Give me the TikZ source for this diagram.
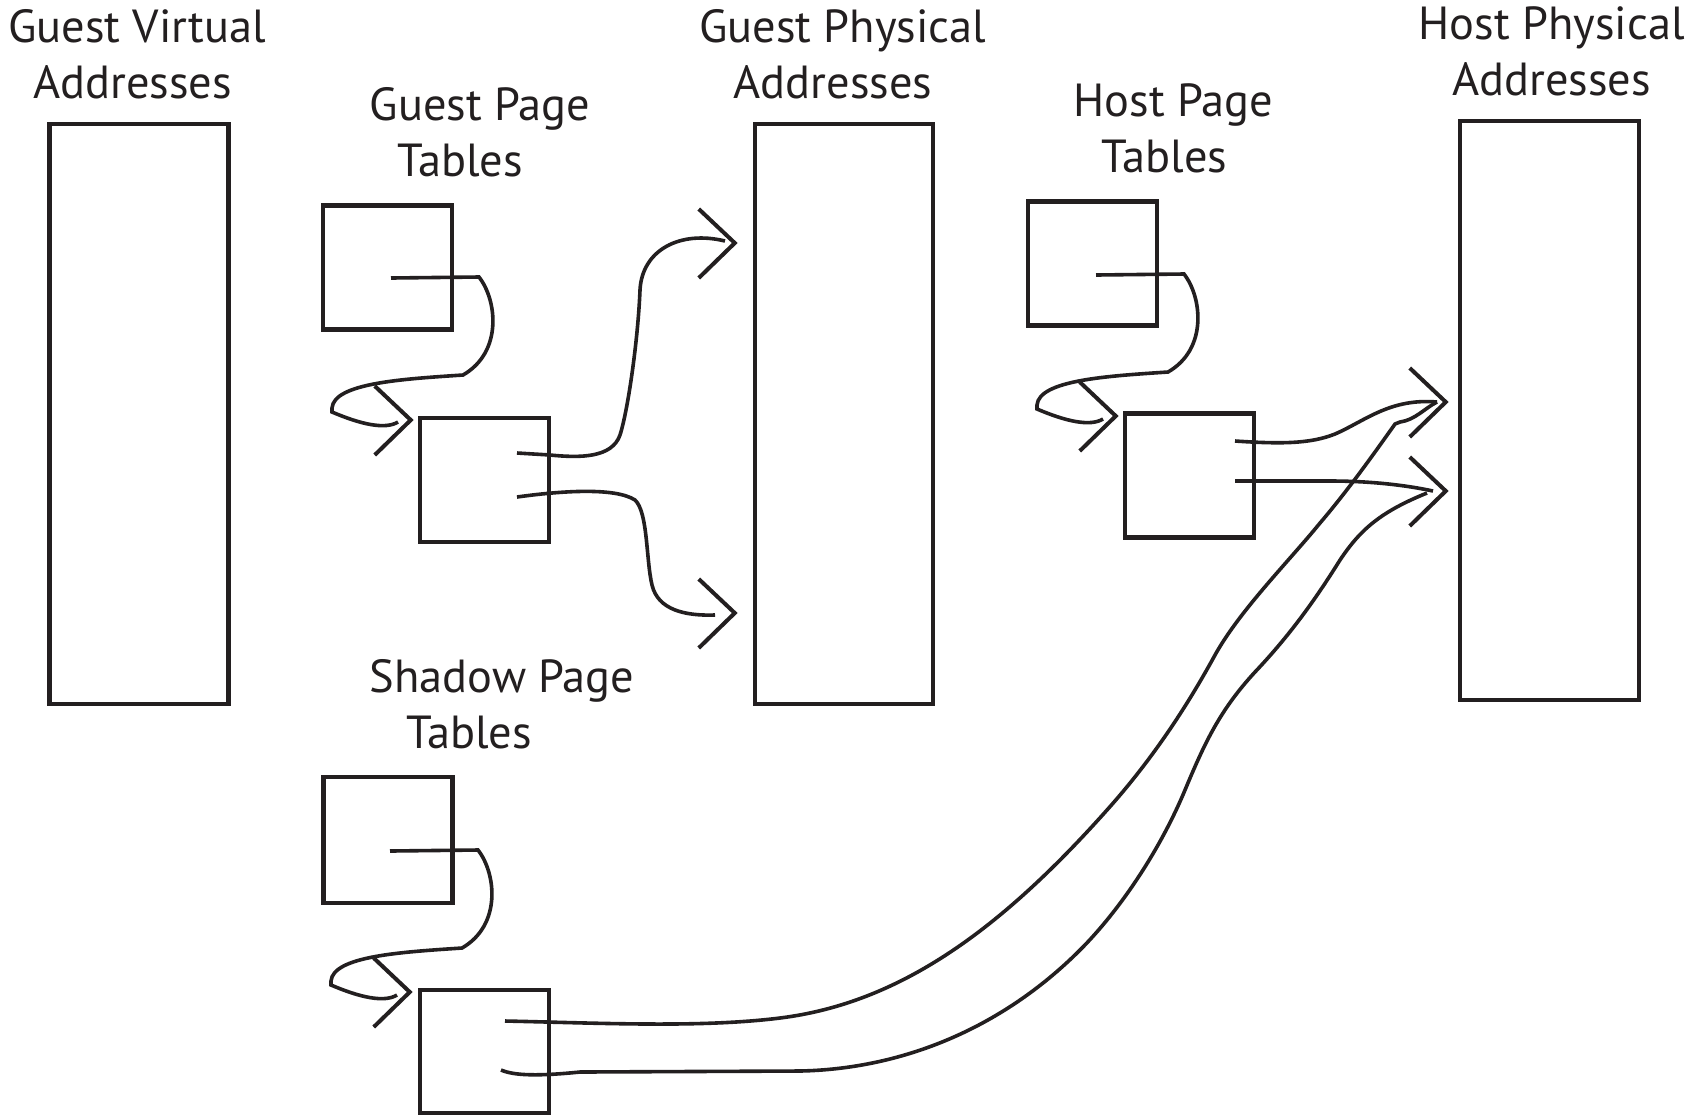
\documentclass[tikz,border=0pt]{standalone}
\usepackage{fontspec}
\setmainfont{PT Sans}
\usetikzlibrary{calc}
\definecolor{ink}{HTML}{231F20}
\begin{document}
\begin{tikzpicture}[x=0.5pt,y=-0.5pt,
  box/.style={draw=ink,line width=2.25pt,inner sep=0pt,minimum width=64.5pt,minimum height=62pt},
  tall/.style={draw=ink,line width=2.25pt,inner sep=0pt,minimum width=89.5pt,minimum height=290pt},
  wire/.style={draw=ink,line width=1.8pt},
  chevline/.style={draw=ink,line width=2pt},
  lbl/.style={font=\fontsize{23.2pt}{28pt}\selectfont,align=center,text=ink,inner sep=0pt,anchor=base}]
\useasboundingbox (0,0) rectangle (1700,1115);
\fill[white] (0,0) rectangle (1700,1115);

% address spaces
\node[tall] (gva) at (139,414) {};
\node[tall,minimum width=89pt] (gpa) at (844,414) {};
\node[tall,minimum height=289.5pt] (hpa) at (1549.5,410.5) {};

% page tables
\node[box] (gpt1) at (387.5,267.5) {};
\node[box] (gpt2) at (484.5,480) {};
\node[box] (hpt1) at (1092.5,263.5) {};
\node[box] (hpt2) at (1189.5,475.5) {};
\node[box,minimum height=63pt] (spt1) at (388,840) {};
\node[box,minimum height=61.5pt] (spt2) at (484.5,1051.5) {};

% labels (base = baseline of the second line)
\node[lbl] (lgva) at (135,98) {\hspace*{2.2pt}Guest Virtual\\Addresses\hspace*{2.2pt}};
\node[lbl] (lgpt) at (470,176) {\hspace*{10pt}Guest Page\\Tables\hspace*{10pt}};
\node[lbl] (lgpa) at (838,98) {\hspace*{4.9pt}Guest Physical\\Addresses\hspace*{4.9pt}};
\node[lbl] (lhpt) at (1169,172) {\hspace*{4.3pt}Host Page\\Tables\hspace*{4.3pt}};
\node[lbl] (lhpa) at (1551.5,95) {Host Physical\\Addresses};
\node[lbl] (lspt) at (485.5,748) {\hspace*{16.5pt}Shadow Page\\Tables\hspace*{16.5pt}};

% named connector ends
\coordinate (gps) at ($(gpt1.center)+(3.5,10.5)$);
\coordinate (hps) at ($(hpt1.center)+(3.5,11.5)$);
\coordinate (sps) at ($(spt1.center)+(2,11)$);
\coordinate (gptip) at ($(gpt2.west)+(-7,-60)$);
\coordinate (hptip) at ($(hpt2.west)+(-7,-59.5)$);
\coordinate (sptip) at ($(spt2.west)+(-8,-59.5)$);
\coordinate (ga1) at ($(gpt2.center)+(32.5,-27)$);
\coordinate (ga2) at ($(gpt2.center)+(32.5,17)$);
\coordinate (ha1) at ($(hpt2.center)+(45.5,-34.5)$);
\coordinate (ha2) at ($(hpt2.center)+(45.5,5.5)$);
\coordinate (sa1) at ($(spt2.center)+(20.5,-30.5)$);
\coordinate (sa2) at ($(spt2.center)+(16.5,18.5)$);
\coordinate (gpat1) at ($(gpa.west)+(-18,-171)$);
\coordinate (gpat2) at ($(gpa.west)+(-18,199)$);
\coordinate (hpat1) at ($(hpa.west)+(-12,-8.5)$);
\coordinate (hpat2) at ($(hpa.west)+(-12,80.5)$);

% pointer loops (table -> next-level table)
\foreach \s in {gps,hps,sps}{
  \draw[wire] (\s) -- ++(88,-1) .. controls +(18,23) and +(40,-23) .. ++(-16,98)
    .. controls +(-60,4) and +(2,-25) .. ++(-131,33) -- ++(0,4)
    .. controls +(28,12) and +(-13,8) .. ++(66,10);
}

% guest page table -> guest physical
\draw[wire] (ga1) -- (550,455) .. controls (580,458) and (612,458) .. (620,435)
  .. controls (628,410) and (638,340) .. (640,290)
  .. controls (642,250) and (680,230) .. (725,241);
\draw[wire] (ga2) .. controls (560,491) and (615,487) .. (635,500)
  .. controls (648,512) and (646,560) .. (652,585)
  .. controls (658,610) and (685,616) .. (715,615);

% host page table -> host physical
\draw[wire] (ha1) .. controls (1280,444) and (1310,444) .. (1335,434)
  .. controls (1365,421) and (1390,398) .. (1437,402);
\draw[wire] (ha2) -- (1330,481) .. controls (1370,481) and (1405,485) .. (1433,491);

% shadow page table -> host physical
\draw[wire] (sa1) .. controls (600,1023) and (700,1028) .. (780,1018)
  .. controls (900,1003) and (1000,930) .. (1107,810)
  .. controls (1150,762) and (1185,710) .. (1215,655)
  .. controls (1240,610) and (1290,560) .. (1320,523)
  .. controls (1350,488) and (1380,445) .. (1395,424) -- (1400,422)
  .. controls (1415,420) and (1425,408) .. (1437,402);
\draw[wire] (sa2) .. controls (515,1076) and (540,1076) .. (580,1072) -- (800,1071)
  .. controls (900,1069) and (1000,1030) .. (1080,950)
  .. controls (1120,910) and (1160,850) .. (1185,790)
  .. controls (1205,742) and (1220,710) .. (1255,672)
  .. controls (1290,635) and (1315,600) .. (1340,560)
  .. controls (1360,530) and (1380,512) .. (1427,493);

% open arrow heads
\foreach \t in {gptip,hptip,sptip,gpat1,gpat2,hpat1,hpat2}{
  \draw[chevline] (\t) ++(-36,-34) -- (\t) -- ++(-36,35);
}
\end{tikzpicture}
\end{document}
